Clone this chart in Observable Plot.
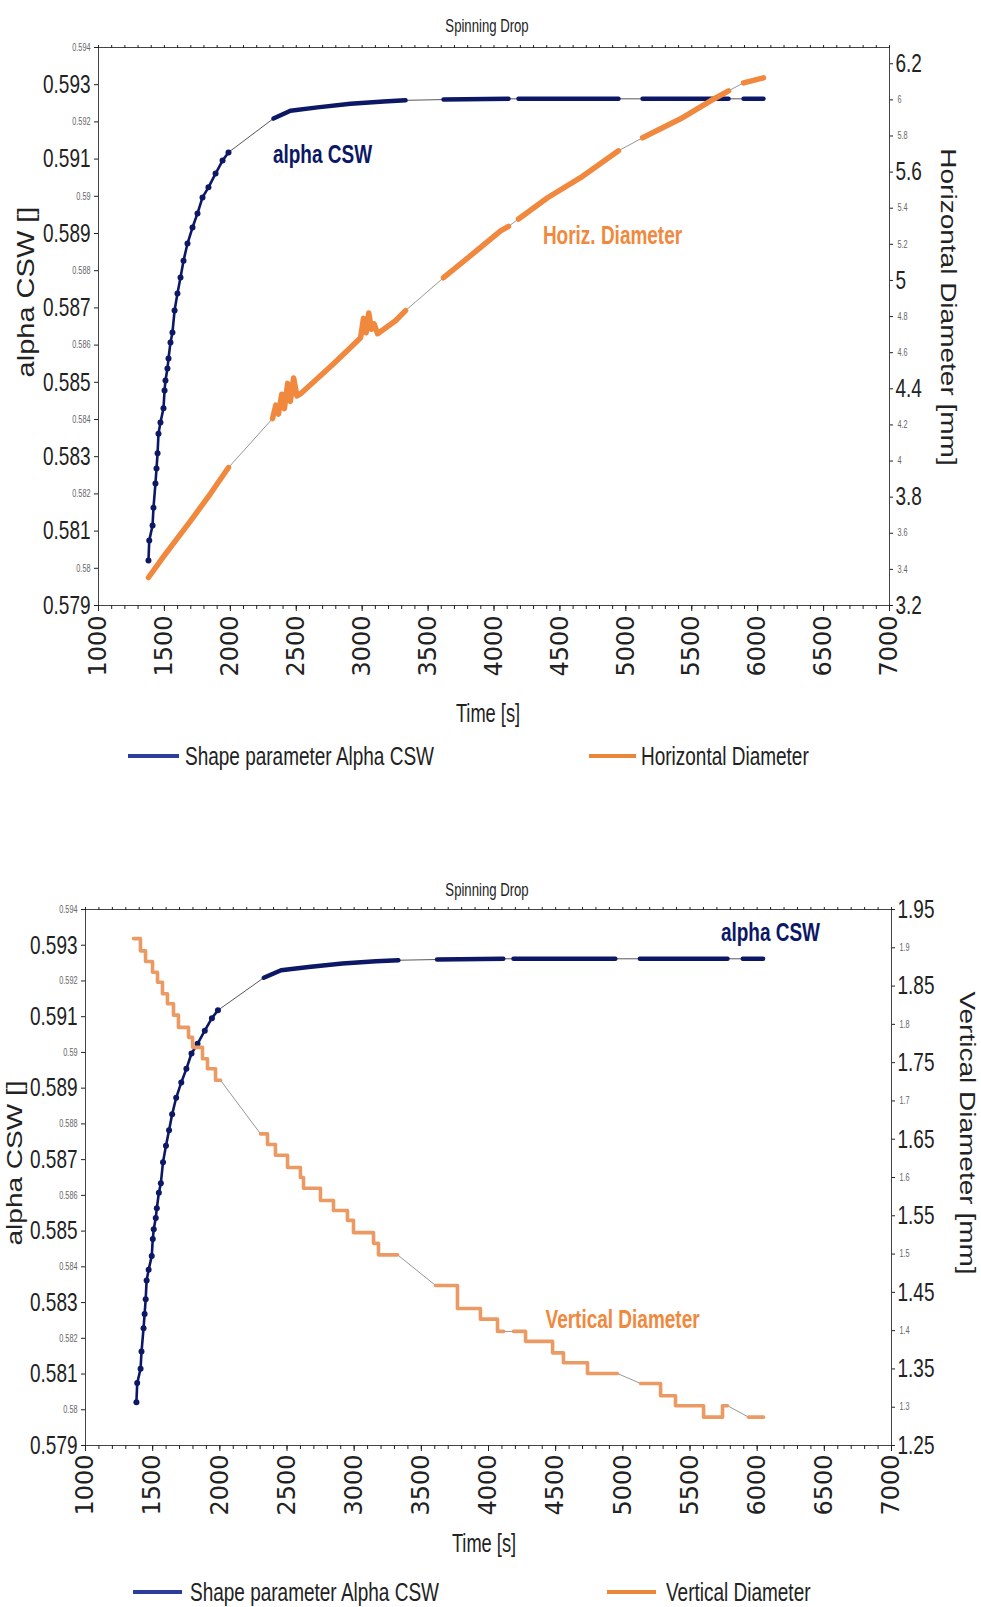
<!DOCTYPE html>
<html><head><meta charset="utf-8">
<script src="https://cdn.jsdelivr.net/npm/d3@7"></script>
<script src="https://cdn.jsdelivr.net/npm/@observablehq/plot@0.6"></script>
<style>
body{margin:0;background:#fff;}
#page{position:relative;width:981px;height:1607px;overflow:hidden;color:#222;font-family:"Liberation Sans",Arial,sans-serif;}
.abs{position:absolute;white-space:nowrap;line-height:1;}
.plot{position:absolute;left:0;}
.rot{transform:translate(-50%,-50%) rotate(-90deg) scaleY(0.8);font-size:28px;}
.rotr{transform:translate(-50%,-50%) rotate(90deg) scaleY(0.8);font-size:28px;}
.ctr{transform:translate(-50%,-50%) scaleX(0.73);}
.sw{position:absolute;height:4px;}
.leg{transform-origin:0 50%;transform:translateY(-50%) scaleX(0.73);font-size:26px;}
</style></head><body><div id="page"></div>
<script>
// ---------- data ----------
const timeTicks = [1000,1500,2000,2500,3000,3500,4000,4500,5000,5500,6000,6500,7000];
const alphaMajorTicks = [0.593,0.591,0.589,0.587,0.585,0.583,0.581,0.579];
const alphaMinorTicks = [0.594,0.592,0.59,0.588,0.586,0.584,0.582,0.58];
const hdMajorTicks = [3.2,3.8,4.4,5,5.6,6.2];
const hdMinorTicks = [3.4,3.6,4,4.2,4.6,4.8,5.2,5.4,5.8,6];
const vdMajorTicks = [1.25,1.35,1.45,1.55,1.65,1.75,1.85,1.95];
const vdMinorTicks = [1.3,1.4,1.5,1.6,1.7,1.8,1.9];

// Shape parameter alpha CSW
const alphaTime = [1379,1385,1410,1417,1432,1440,1448,1455,1470,1493,1501,1508,1523,1531,1546,1561,1577,1599,1622,1645,1675,1713,1751,1789,1834,1888,1941,1986,
  2327,2456,2661,2912,3162,3329, 3617,4110, 4186,4944, 5127,5779, 5893,6044];
const alphaValue = [0.58021,0.58075,0.58115,0.58163,0.58228,0.58268,0.58309,0.58362,0.58392,0.58430,0.58478,0.58505,0.58537,0.58564,0.58607,0.58634,0.58693,0.58739,0.58782,0.58827,0.58873,0.58916,0.58954,0.58997,0.59024,0.59061,0.59096,0.59118,
  0.59209,0.59230,0.59239,0.59249,0.59255,0.59258, 0.59260,0.59262, 0.59262,0.59262, 0.59262,0.59262, 0.59262,0.59262];
const alphaSegment = [1,1,1,1,1,1,1,1,1,1,1,1,1,1,1,1,1,1,1,1,1,1,1,1,1,1,1,1,
  2,2,2,2,2,2, 3,3, 4,4, 5,5, 6,6];

// Horizontal diameter [mm]
const hdTime = [1379,1500,1700,1850,1986,
  2320,2345,2365,2390,2410,2435,2455,2480,2505,2533,2650,2783,2900,2988,3010,3030,3050,3070,3090,3117,3253,3329,
  3617,3822,4050,4110, 4186,4406,4656,4944, 5127,5415,5643,5779, 5893,6044];
const hdValue = [3.355,3.477,3.670,3.820,3.964,
  4.235,4.310,4.260,4.370,4.290,4.430,4.330,4.460,4.360,4.373,4.450,4.539,4.620,4.683,4.790,4.710,4.820,4.730,4.760,4.705,4.777,4.833,
  5.015,5.137,5.275,5.300, 5.340,5.458,5.569,5.718, 5.790,5.895,5.995,6.050, 6.094,6.122];
const hdSegment = [1,1,1,1,1,
  2,2,2,2,2,2,2,2,2,2,2,2,2,2,2,2,2,2,2,2,2,2,
  3,3,3,3, 4,4,4,4, 5,5,5,5, 6,6];

// Vertical diameter [mm] (step starts)
const vdTime = [1357,1409,1447,1499,1536,1573,1610,1655,1692,1767,1797,1871,1908,1968,2005,
  2303,2355,2414,2504,2600,2623,2749,2846,2950,2995,3144,3181,3323,
  3606,3769,3940,4067,4112, 4186,4276,4477,4558,4737,4960,
  5132,5281,5392,5601,5742,5779, 5936,6047];
const vdValue = [1.912,1.896,1.882,1.868,1.855,1.840,1.827,1.812,1.796,1.783,1.770,1.755,1.742,1.727,1.727,
  1.657,1.643,1.629,1.613,1.600,1.586,1.570,1.557,1.544,1.528,1.514,1.499,1.499,
  1.459,1.429,1.415,1.399,1.399, 1.399,1.386,1.371,1.358,1.344,1.344,
  1.331,1.315,1.302,1.287,1.302,1.302, 1.287,1.287];
const vdSegment = [1,1,1,1,1,1,1,1,1,1,1,1,1,1,1,
  2,2,2,2,2,2,2,2,2,2,2,2,2,
  3,3,3,3,3, 4,4,4,4,4,4,
  5,5,5,5,5,5, 6,6];

const chartTitle = "Spinning Drop";
const timeLabel = "Time [s]";
const alphaAxisLabel = "alpha CSW []";
const hdAxisLabel = "Horizontal Diameter [mm]";
const vdAxisLabel = "Vertical Diameter [mm]";
const legendAlpha = "Shape parameter Alpha CSW";
const legendHd = "Horizontal Diameter";
const legendVd = "Vertical Diameter";
const alphaNote1 = [{t:2699, v:0.59112, label:"alpha CSW"}];
const hdNote = [{t:4899, v:5.248, label:"Horiz. Diameter"}];
const alphaNote2 = [{t:6099, v:0.59336, label:"alpha CSW"}];
const vdNote = [{t:4998, v:1.4145, label:"Vertical Diameter"}];

// ---------- styles ----------
const NAVY = "#0c1866", ORANGE = "#f0883e", ORANGE2 = "#ea9a62", THIN = "#8a8a8a";
const ARIAL = '"Liberation Sans",Arial,sans-serif';
const WIDE = '"DejaVu Sans",Verdana,sans-serif';
const SX = 0.73;
const minorTime = d3.range(1000, 7001, 100);

function rows(T, V, S){ return T.map((t,i)=>({t, v:V[i], seg:S[i]})); }
function gaps(R){ const out=[]; for(let i=1;i<R.length;i++){ if(R[i].seg!==R[i-1].seg){ out.push({t:R[i-1].t,v:R[i-1].v,g:i},{t:R[i].t,v:R[i].v,g:i}); } } return out; }

const alphaRows = rows(alphaTime, alphaValue, alphaSegment);
const hdRows = rows(hdTime, hdValue, hdSegment);
const vdRows = rows(vdTime, vdValue, vdSegment);

const page = document.getElementById("page");
function add(html, cls, left, top){ const d=document.createElement("div"); d.className="abs "+cls; d.style.left=left+"px"; d.style.top=top+"px"; d.textContent=html; page.appendChild(d); return d; }
function swatch(color, left, top, w){ const d=document.createElement("div"); d.className="sw"; d.style.background=color; d.style.left=left+"px"; d.style.top=(top-2)+"px"; d.style.width=w+"px"; page.appendChild(d); }

// horizontally condense the Arial-style texts (the original uses a narrow face)
function squeeze(svg){
  svg.querySelectorAll('g[font-family*="Liberation"] text').forEach(t=>{
    const w = t.getComputedTextLength();
    if (w > 0) { t.setAttribute("textLength", (w*SX).toFixed(2)); t.setAttribute("lengthAdjust", "spacingAndGlyphs"); }
  });
}

function leftPlot(o){
  return Plot.plot({
    width:981, height:o.h, marginLeft:o.ml, marginRight:o.mr, marginTop:o.mt, marginBottom:o.mb,
    style:{background:"transparent", overflow:"visible", color:"#222"},
    x:{domain:[1000,7000], label:null},
    y:{domain:[0.579,0.594], label:null},
    marks:[
      Plot.frame({stroke:"#444"}),
      Plot.axisX({ticks:minorTime, tickSize:4, tickFormat:()=>"", label:null}),
      Plot.axisX({anchor:"top", ticks:minorTime, tickSize:3, tickFormat:()=>"", label:null}),
      Plot.axisX({ticks:timeTicks, tickSize:6, tickPadding:o.xpad, tickRotate:-90, fontSize:24, fontFamily:WIDE, tickFormat:d=>String(d), label:null}),
      Plot.axisY({ticks:alphaMajorTicks, tickSize:4, tickPadding:4, fontSize:26, fontFamily:ARIAL, tickFormat:d=>String(d), label:null}),
      Plot.axisY({ticks:alphaMinorTicks, tickSize:4, tickPadding:4, fontSize:10, fontFamily:ARIAL, fill:"#666", tickFormat:d=>String(d), label:null}),
      Plot.line(alphaRows, {x:"t", y:"v", stroke:"#444", strokeWidth:0.9}),
      Plot.line(alphaRows.filter(d=>d.seg===1), {x:"t", y:"v", stroke:NAVY, strokeWidth:2.6}),
      Plot.dot(alphaRows.filter(d=>d.seg===1), {x:"t", y:"v", r:3, fill:NAVY}),
      Plot.line(alphaRows.filter(d=>d.seg>1), {x:"t", y:"v", z:"seg", stroke:NAVY, strokeWidth:4.5}),
      Plot.text(o.note, {x:"t", y:"v", text:"label", fill:NAVY, fontWeight:"bold", fontSize:26, fontFamily:ARIAL})
    ]
  });
}
function rightPlot(o){
  return Plot.plot({
    width:981, height:o.h, marginLeft:o.ml, marginRight:o.mr, marginTop:o.mt, marginBottom:o.mb,
    style:{background:"transparent", overflow:"visible", color:"#222"},
    x:{domain:[1000,7000], axis:null, label:null},
    y:{domain:o.domain, label:null},
    marks:[
      Plot.axisY({anchor:"right", ticks:o.major, tickSize:3, tickPadding:3, fontSize:26, fontFamily:ARIAL, tickFormat:d=>String(d), label:null}),
      Plot.axisY({anchor:"right", ticks:o.minor, tickSize:3, tickPadding:5, fontSize:10, fontFamily:ARIAL, fill:"#666", tickFormat:d=>String(d), label:null}),
      ...o.marks,
      Plot.text(o.note, {x:"t", y:"v", text:"label", fill:ORANGE, fontWeight:"bold", fontSize:26, fontFamily:ARIAL})
    ]
  });
}
function place(svg, top){ svg.classList.add("plot"); svg.style.top=top+"px"; page.appendChild(svg); squeeze(svg); }

// ---------- top chart ----------
const topGeom = {h:700, ml:98, mr:92, mt:47, mb:95, xpad:4};
place(leftPlot({...topGeom, note:alphaNote1}), 0);
place(rightPlot({...topGeom, domain:[3.2,6.29], major:hdMajorTicks, minor:hdMinorTicks, note:hdNote, marks:[
  Plot.line(hdRows, {x:"t", y:"v", stroke:THIN, strokeWidth:0.9}),
  Plot.line(hdRows, {x:"t", y:"v", z:"seg", stroke:ORANGE, strokeWidth:5.5})
]}), 0);
add(chartTitle, "ctr", 487, 26).style.fontSize="18px";
add(alphaAxisLabel, "rot", 26, 292).style.fontSize="29px";
add(hdAxisLabel, "rotr", 948, 307);
add(timeLabel, "ctr", 488, 713).style.fontSize="25px";
swatch("#2d3d9c", 128, 756, 51); add(legendAlpha, "leg", 185, 756);
swatch("#e8873c", 589, 756, 47); add(legendHd, "leg", 641, 756);

// ---------- bottom chart ----------
const botGeom = {h:700, ml:85, mr:90, mt:59, mb:105, xpad:3};
place(leftPlot({...botGeom, note:alphaNote2}), 850);
place(rightPlot({...botGeom, domain:[1.25,1.95], major:vdMajorTicks, minor:vdMinorTicks, note:vdNote, marks:[
  Plot.line(gaps(vdRows), {x:"t", y:"v", z:"g", stroke:THIN, strokeWidth:0.9}),
  Plot.line(vdRows, {x:"t", y:"v", z:"seg", curve:"step-after", stroke:ORANGE2, strokeWidth:3.6})
]}), 850);
add(chartTitle, "ctr", 487, 890).style.fontSize="18px";
add(alphaAxisLabel, "rot", 15, 1163);
add(vdAxisLabel, "rotr", 967, 1133);
add(timeLabel, "ctr", 484, 1543).style.fontSize="25px";
swatch("#2d3d9c", 133, 1592, 49); add(legendAlpha, "leg", 190, 1592);
swatch("#e8873c", 607, 1592, 49); add(legendVd, "leg", 666, 1592);
</script></body></html>
